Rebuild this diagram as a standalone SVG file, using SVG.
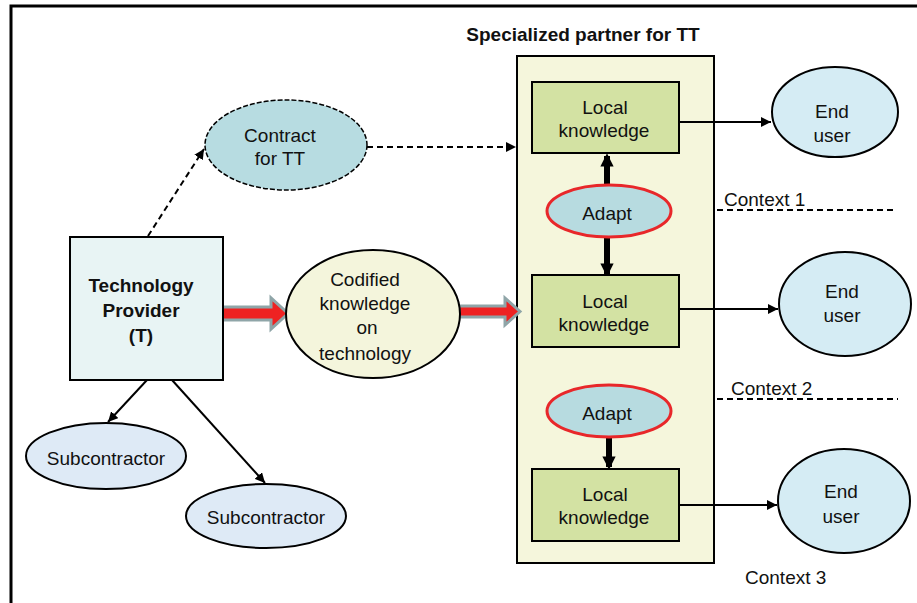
<svg xmlns="http://www.w3.org/2000/svg" width="917" height="603" viewBox="0 0 917 603">
<defs>
<style>
text{font-family:"Liberation Sans",Arial,sans-serif;font-size:19px;fill:#111;text-anchor:middle}
.b{font-weight:bold}
.s{text-anchor:start}
.ol{stroke:#000;stroke-width:2}
.thin{stroke:#000;stroke-width:2;fill:none}
.dash{stroke:#000;stroke-width:2;fill:none;stroke-dasharray:6,4}
.thick{stroke:#000;stroke-width:6;fill:none}
.block{fill:#ee2222;stroke:#8fa5a8;stroke-width:3}
.local{fill:#d3e2a3;stroke:#000;stroke-width:2}
.adapt{fill:#b7dbe0;stroke:#e8272a;stroke-width:3}
.end{fill:#d5ecf4;stroke:#000;stroke-width:2}
.sub{fill:#deeaf6;stroke:#000;stroke-width:2}
</style>
<marker id="ah" viewBox="0 0 10 10" refX="10" refY="5" markerWidth="5" markerHeight="5" orient="auto" markerUnits="strokeWidth">
<path d="M0,0 L10,5 L0,10 z" fill="#000"/>
</marker>
<marker id="ahT" viewBox="0 0 10 10" refX="8" refY="5" markerWidth="2.2" markerHeight="2.2" orient="auto" markerUnits="strokeWidth">
<path d="M0,0 L10,5 L0,10 z" fill="#000"/>
</marker>
</defs>
<rect width="917" height="603" fill="#fff"/>
<path d="M11,603 V6 H917" fill="none" stroke="#000" stroke-width="3"/>

<g id="container">
<rect x="517" y="56" width="197" height="507" fill="#f5f6dc" stroke="#000" stroke-width="2"/>
<text class="b" x="583" y="41">Specialized partner for TT</text>
</g>

<g id="connectors">
<line class="dash" x1="148" y1="236" x2="204" y2="149" marker-end="url(#ah)"/>
<line class="dash" x1="367" y1="147" x2="516" y2="147" marker-end="url(#ah)"/>
<line class="thin" x1="147" y1="380" x2="108" y2="422" marker-end="url(#ah)"/>
<line class="thin" x1="172" y1="380" x2="265" y2="483" marker-end="url(#ah)"/>
<path class="block" d="M222,307 H271 V298 L288,313.5 L271,329 V320 H222 z"/>
<path class="block" d="M459,306 H505 V298 L520,311.5 L505,325 V317 H459 z"/>
<line class="thick" x1="607" y1="184" x2="607" y2="156" marker-end="url(#ahT)"/>
<line class="thick" x1="607" y1="237" x2="607" y2="274" marker-end="url(#ahT)"/>
<line class="thick" x1="609" y1="437" x2="609" y2="467" marker-end="url(#ahT)"/>
<line class="thin" x1="679" y1="122" x2="771" y2="122" marker-end="url(#ah)"/>
<line class="thin" x1="679" y1="309" x2="778" y2="309" marker-end="url(#ah)"/>
<line class="thin" x1="679" y1="505" x2="777" y2="505" marker-end="url(#ah)"/>
<line class="dash" x1="717" y1="210" x2="893" y2="210"/>
<line class="dash" x1="717" y1="399" x2="898" y2="399"/>
</g>

<g id="provider">
<rect x="70" y="237" width="153" height="143" fill="#e8f4f4" stroke="#000" stroke-width="2"/>
<text class="b" x="141" y="292">Technology</text>
<text class="b" x="141" y="317">Provider</text>
<text class="b" x="141" y="342">(T)</text>
</g>

<g id="contract">
<ellipse cx="286" cy="145" rx="81" ry="45" fill="#b7dce1" stroke="#000" stroke-width="1.5" stroke-dasharray="5,2"/>
<text x="280" y="142">Contract</text>
<text x="280" y="165">for TT</text>
</g>

<g id="codified">
<ellipse cx="373" cy="314" rx="87" ry="64" fill="#f4f5dc" stroke="#000" stroke-width="2"/>
<text x="365" y="286">Codified</text>
<text x="365" y="310">knowledge</text>
<text x="367" y="334">on</text>
<text x="365" y="360">technology</text>
</g>

<g id="sub1">
<ellipse cx="106" cy="456" rx="80" ry="33" class="sub"/>
<text x="106" y="465">Subcontractor</text>
</g>
<g id="sub2">
<ellipse cx="266" cy="516" rx="80" ry="32" class="sub"/>
<text x="266" y="524">Subcontractor</text>
</g>

<g id="local1">
<rect x="532" y="82" width="147" height="71" class="local"/>
<text x="605" y="114">Local</text>
<text x="604" y="137">knowledge</text>
</g>
<g id="adapt1">
<ellipse cx="609" cy="211" rx="62" ry="26" class="adapt"/>
<text x="607" y="220">Adapt</text>
</g>
<g id="local2">
<rect x="532" y="275" width="147" height="72" class="local"/>
<text x="605" y="308">Local</text>
<text x="604" y="331">knowledge</text>
</g>
<g id="adapt2">
<ellipse cx="609" cy="411" rx="62" ry="26" class="adapt"/>
<text x="607" y="420">Adapt</text>
</g>
<g id="local3">
<rect x="532" y="469" width="147" height="72" class="local"/>
<text x="605" y="501">Local</text>
<text x="604" y="524">knowledge</text>
</g>

<g id="end1">
<ellipse cx="835" cy="112" rx="63" ry="45" class="end"/>
<text x="832" y="118">End</text>
<text x="832" y="142">user</text>
</g>
<g id="end2">
<ellipse cx="845" cy="304" rx="66" ry="52" class="end"/>
<text x="842" y="298">End</text>
<text x="842" y="322">user</text>
</g>
<g id="end3">
<ellipse cx="844" cy="501" rx="66" ry="52" class="end"/>
<text x="841" y="498">End</text>
<text x="841" y="523">user</text>
</g>

<g id="contexts">
<text class="s" x="724" y="206">Context 1</text>
<text class="s" x="731" y="395">Context 2</text>
<text class="s" x="745" y="584">Context 3</text>
</g>
</svg>
